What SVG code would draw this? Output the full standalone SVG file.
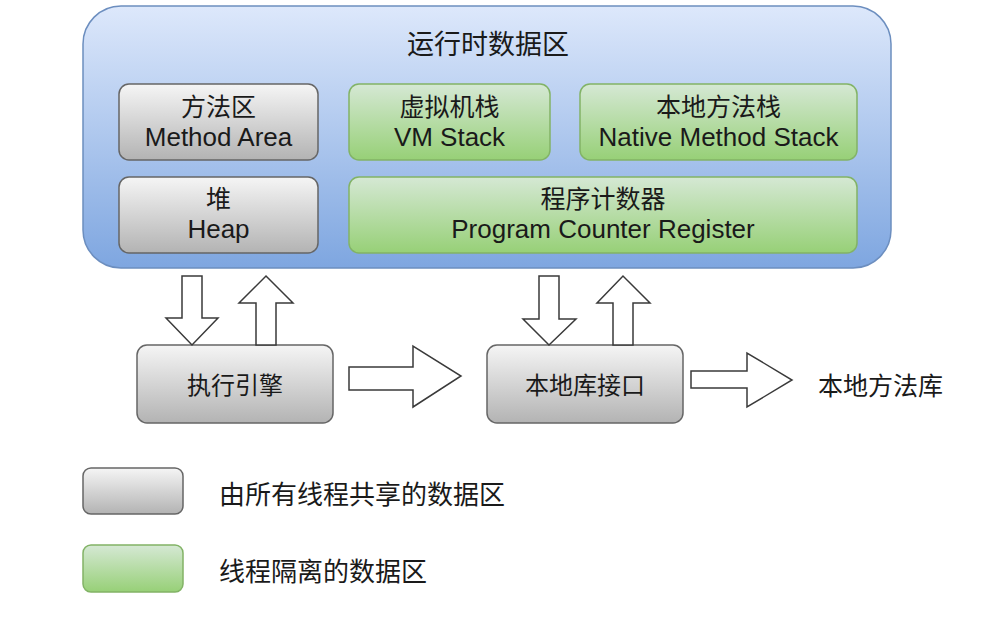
<svg xmlns="http://www.w3.org/2000/svg" width="1000" height="622" viewBox="0 0 1000 622">
  <style>
    .cjk { font-family: "Liberation Sans", "Noto Sans CJK SC", sans-serif; font-size: 25px; fill: #1a1a1a; text-anchor: middle; dominant-baseline: central; }
    .lat { font-family: "Liberation Sans", "Noto Sans CJK SC", sans-serif; font-size: 26px; fill: #1a1a1a; text-anchor: middle; }
    .left { text-anchor: start; }
    .gray { fill: url(#gGray); stroke: #666666; stroke-width: 1.5; }
    .green { fill: url(#gGreen); stroke: #82b366; stroke-width: 1.5; }
    .blk { fill: #ffffff; stroke: #3a3a3a; stroke-width: 1.5; stroke-linejoin: miter; }
  </style>
  <defs>
    <linearGradient id="gBlue" x1="0" y1="0" x2="0" y2="1">
      <stop offset="0" stop-color="#dde8fb"/>
      <stop offset="1" stop-color="#7ea6e0"/>
    </linearGradient>
    <linearGradient id="gGray" x1="0" y1="0" x2="0" y2="1">
      <stop offset="0" stop-color="#f5f5f5"/>
      <stop offset="1" stop-color="#b3b3b3"/>
    </linearGradient>
    <linearGradient id="gGreen" x1="0" y1="0" x2="0" y2="1">
      <stop offset="0" stop-color="#d5e8d4"/>
      <stop offset="1" stop-color="#97d077"/>
    </linearGradient>
  </defs>
  <rect width="1000" height="622" fill="#ffffff"/>

  <g id="runtime-data-area">
    <rect x="83" y="6" width="808" height="262" rx="38" ry="38" fill="url(#gBlue)" stroke="#6c8ebf" stroke-width="1.5"/>
    <text class="cjk" x="488" y="45" style="font-size:27px">运行时数据区</text>
  </g>

  <g id="method-area">
    <rect class="gray" x="119" y="84" width="199" height="76" rx="10"/>
    <text class="cjk" x="218.5" y="107">方法区</text>
    <text class="lat" x="218.5" y="146">Method Area</text>
  </g>
  <g id="vm-stack">
    <rect class="green" x="349" y="84" width="201" height="76" rx="10"/>
    <text class="cjk" x="449.5" y="107">虚拟机栈</text>
    <text class="lat" x="449.5" y="146">VM Stack</text>
  </g>
  <g id="native-method-stack">
    <rect class="green" x="580" y="84" width="277" height="76" rx="10"/>
    <text class="cjk" x="718.5" y="107">本地方法栈</text>
    <text class="lat" x="718.5" y="146">Native Method Stack</text>
  </g>
  <g id="heap">
    <rect class="gray" x="119" y="177" width="199" height="76" rx="10"/>
    <text class="cjk" x="218.5" y="199">堆</text>
    <text class="lat" x="218.5" y="238">Heap</text>
  </g>
  <g id="program-counter-register">
    <rect class="green" x="349" y="177" width="508" height="76" rx="10"/>
    <text class="cjk" x="603" y="199">程序计数器</text>
    <text class="lat" x="603" y="238">Program Counter Register</text>
  </g>

  <g id="execution-engine">
    <rect class="gray" x="137" y="345" width="196" height="78" rx="10"/>
    <text class="cjk" x="235" y="385" style="font-size:24px">执行引擎</text>
  </g>
  <g id="native-interface">
    <rect class="gray" x="487" y="345" width="196" height="78" rx="10"/>
    <text class="cjk" x="585" y="385" style="font-size:24px">本地库接口</text>
  </g>
  <g id="native-method-library">
    <text class="cjk left" x="818" y="386">本地方法库</text>
  </g>

  <g id="connectors">
    <polygon class="blk" points="182,276 202,276 202,318 218,318 192,345 166,318 182,318"/>
    <polygon class="blk" points="256,345 276,345 276,303 293,303 266,276 239,303 256,303"/>
    <polygon class="blk" points="539,276 559,276 559,319 576,319 549,345 523,319 539,319"/>
    <polygon class="blk" points="613,345 633,345 633,303 650,303 623,276 597,303 613,303"/>
    <polygon class="blk" points="349,367 413,367 413,346 461,376 413,407 413,390 349,390"/>
    <polygon class="blk" points="691,371 747,371 747,353 792,380 747,407 747,388 691,388"/>
  </g>

  <g id="legend-shared">
    <rect class="gray" x="83" y="468" width="100" height="46" rx="8"/>
    <text class="cjk left" x="219" y="495" style="font-size:26px">由所有线程共享的数据区</text>
  </g>
  <g id="legend-isolated">
    <rect class="green" x="83" y="545" width="100" height="47" rx="8"/>
    <text class="cjk left" x="219" y="572" style="font-size:26px">线程隔离的数据区</text>
  </g>
</svg>
